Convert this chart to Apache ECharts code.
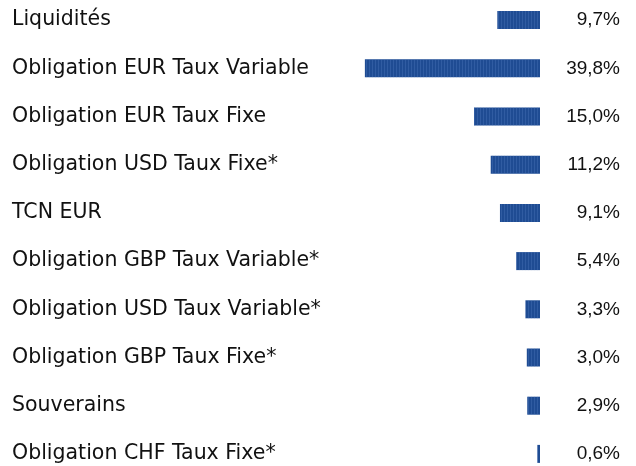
<!DOCTYPE html>
<html>
<head>
<meta charset="utf-8">
<script src="https://cdn.jsdelivr.net/npm/echarts@6/dist/echarts.min.js"></script>
<style>
  html, body { margin: 0; padding: 0; background: #fff; }
  #chart { width: 636px; height: 466px; }
</style>
</head>
<body>
<div id="chart"></div>
<script>
var categories = [
    'Liquidités',
    'Obligation EUR Taux Variable',
    'Obligation EUR Taux Fixe',
    'Obligation USD Taux Fixe*',
    'TCN EUR',
    'Obligation GBP Taux Variable*',
    'Obligation USD Taux Variable*',
    'Obligation GBP Taux Fixe*',
    'Souverains',
    'Obligation CHF Taux Fixe*'
];
var values = [9.7, 39.8, 15.0, 11.2, 9.1, 5.4, 3.3, 3.0, 2.9, 0.6];
var valueLabels = ['9,7%', '39,8%', '15,0%', '11,2%', '9,1%', '5,4%', '3,3%', '3,0%', '2,9%', '0,6%'];

(function () {
    var myChart = echarts.init(document.getElementById('chart'));
    var option = {
        animation: false,
        grid: { left: 364, right: 96, top: -4, bottom: -12, outerBoundsMode: 'none', containLabel: false },
        xAxis: {
            type: 'value',
            min: 0,
            max: 40,
            inverse: true,
            show: false
        },
        yAxis: [
            {
                type: 'category',
                data: categories,
                inverse: true,
                position: 'left',
                axisLine: { show: false },
                axisTick: { show: false },
                axisLabel: {
                    align: 'left',
                    margin: 352,
                    color: '#111',
                    fontSize: 20.5,
                    fontFamily: 'DejaVu Sans'
                }
            },
            {
                type: 'category',
                data: valueLabels,
                inverse: true,
                position: 'right',
                axisLine: { show: false },
                axisTick: { show: false },
                axisLabel: {
                    align: 'right',
                    margin: 80,
                    color: '#111',
                    fontSize: 19,
                    fontFamily: 'Liberation Sans'
                }
            }
        ],
        series: [
            {
                type: 'bar',
                data: values,
                barWidth: 18,
                itemStyle: {
                    color: '#1f4c93',
                    decal: {
                        symbol: 'rect',
                        symbolSize: 1,
                        color: 'rgba(90,130,200,0.3)',
                        dashArrayX: [1, 2],
                        dashArrayY: [20, 0],
                        rotation: 0
                    }
                }
            }
        ]
    };
    myChart.setOption(option);
})();
</script>
</body>
</html>
